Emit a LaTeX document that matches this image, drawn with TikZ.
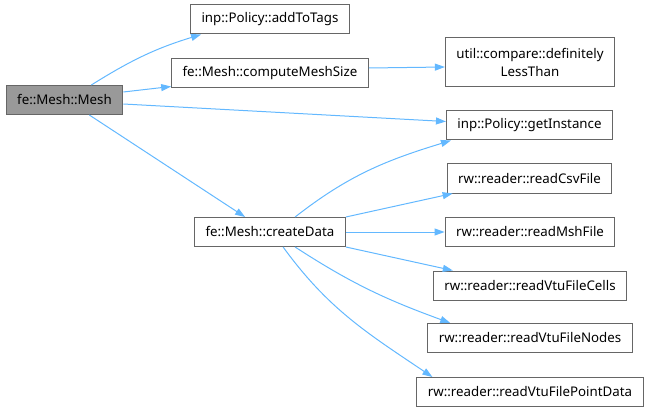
\documentclass[tikz,border=0pt]{standalone}
\usepackage{fontspec}
\setmainfont{Noto Sans}
\usepackage{tikz}
\usetikzlibrary{arrows.meta}

\definecolor{edgeblue}{HTML}{63B8FF}
\definecolor{boxgray}{HTML}{666666}
\definecolor{rootgray}{HTML}{999999}

\begin{document}
\begin{tikzpicture}[x=1pt, y=-1pt,
  fnbox/.style={draw=boxgray, line width=1pt, fill=white,
    minimum height=29pt, inner xsep=11pt, inner ysep=3pt,
    align=center, font=\fontsize{13.3}{18.3}\selectfont},
  rootbox/.style={fnbox, fill=rootgray},
  callar/.style={-{Triangle[length=10pt, width=7pt]}, edgeblue, line width=1pt},
]
\useasboundingbox (0,0) rectangle (649,412);

% ── Caller ───────────────────────────────────────────────────────────────────
\node[rootbox] (mesh) at (64.5,100) {fe::Mesh::Mesh};

% ── First level ──────────────────────────────────────────────────────────────
\node[fnbox] (addtags) at (270,19.5) {inp::Policy::addToTags};
\node[fnbox] (meshsize) at (270,73.5) {fe::Mesh::computeMeshSize};
\node[fnbox] (createdata) at (270,232) {fe::Mesh::createData};

% ── Second level ─────────────────────────────────────────────────────────────
\node[fnbox, minimum height=49pt] (lessthan) at (530,62.5) {util::compare::definitely\\LessThan};
\node[fnbox] (instance) at (529.5,125.5) {inp::Policy::getInstance};
\node[fnbox] (csvfile) at (529.5,178.5) {rw::reader::readCsvFile};
\node[fnbox] (mshfile) at (530,232) {rw::reader::readMshFile};
\node[fnbox] (vtucells) at (530,285.5) {rw::reader::readVtuFileCells};
\node[fnbox] (vtunodes) at (530,338) {rw::reader::readVtuFileNodes};
\node[fnbox] (vtupoint) at (530,392) {rw::reader::readVtuFilePointData};

% ── Calls from fe::Mesh::Mesh ────────────────────────────────────────────────
\draw[callar] ([xshift=-32pt]mesh.north east) to[out=32, in=197] ([xshift=11pt]addtags.south west);
\draw[callar] ([yshift=8pt]mesh.east) -- ([yshift=2pt]meshsize.south west);
\draw[callar] ([yshift=-4pt]mesh.east) -- ([yshift=4pt]instance.west);
\draw[callar] ([xshift=-34pt]mesh.south east) -- ([xshift=51pt]createdata.north west);

% ── Calls from computeMeshSize ───────────────────────────────────────────────
\draw[callar] ([yshift=5.5pt]meshsize.east) -- ([yshift=-4.5pt]lessthan.west);

% ── Calls from createData ────────────────────────────────────────────────────
\draw[callar] ([xshift=101pt]createdata.north west) to[out=38, in=197] ([xshift=5pt]instance.south west);
\draw[callar] (createdata.north east) -- ([xshift=6pt]csvfile.south west);
\draw[callar] (createdata.east) -- (mshfile.west);
\draw[callar] (createdata.south east) -- ([xshift=20pt]vtucells.north west);
\draw[callar] ([xshift=101pt]createdata.south west) to[out=-33, in=160] ([xshift=23pt]vtunodes.north west);
\draw[callar] ([xshift=89pt]createdata.south west) to[out=-54, in=146] ([xshift=16pt]vtupoint.north west);

\end{tikzpicture}
\end{document}
